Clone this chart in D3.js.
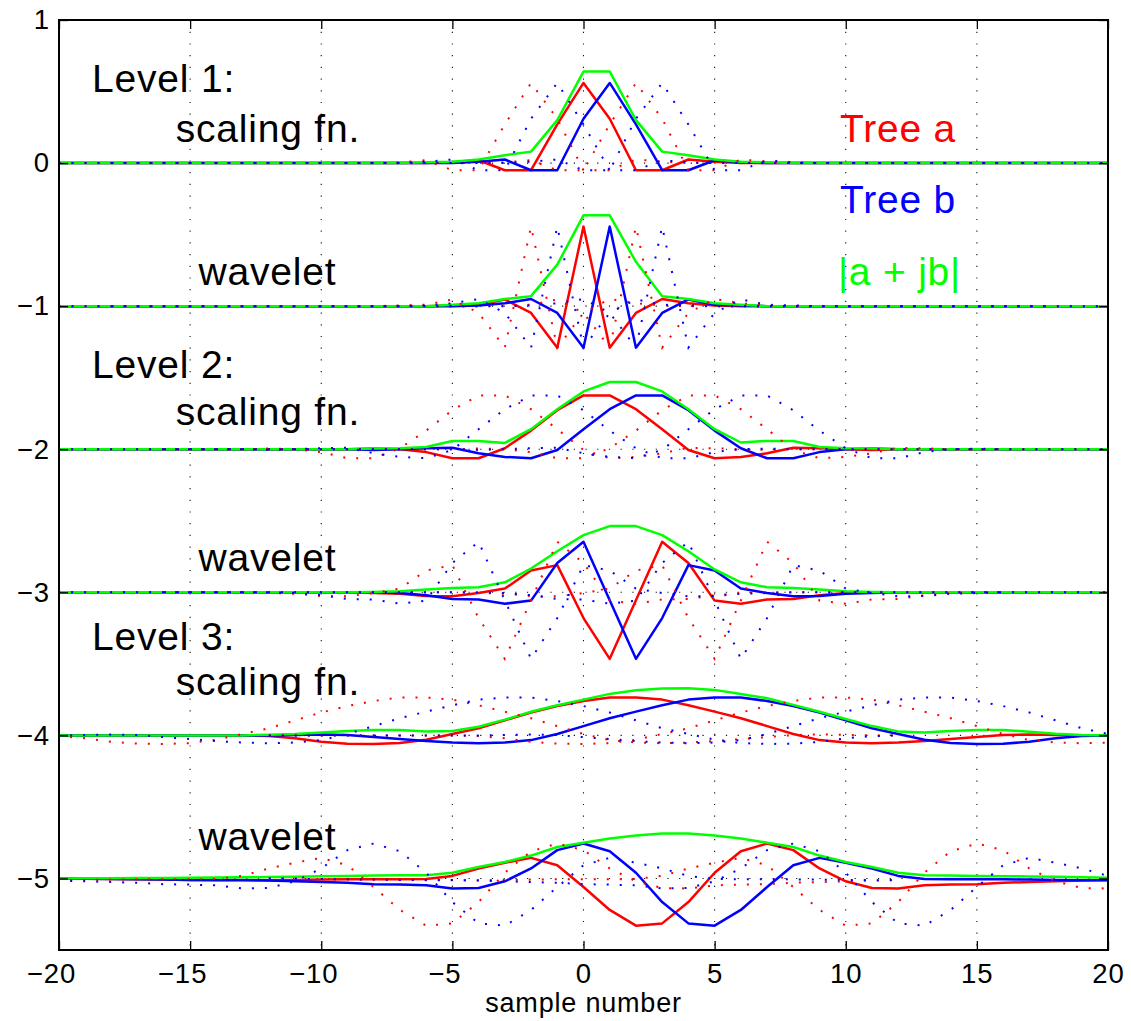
<!DOCTYPE html>
<html>
<head>
<meta charset="utf-8">
<script src="https://cdn.jsdelivr.net/npm/d3@7/dist/d3.min.js"></script>
<style>
  body { margin: 0; background: #fff; }
  text { font-family: "Liberation Sans", Arial, Helvetica, sans-serif; }
</style>
</head>
<body>
<div id="chart"></div>
<script>
// sample positions and ticks
var samples = d3.range(-20, 21);
var xTicks = [-20, -15, -10, -5, 0, 5, 10, 15, 20];
var yTicks = [1, 0, -1, -2, -3, -4, -5];

// each curve sits on its own baseline, neighbours are shifted by 2^level samples
var levelOffsets = [0, -1, -2, -3, -4, -5];
var neighbourShift = [2, 2, 4, 4, 8, 8];

// values for sample -20 .. 20
var l1ScaleA   = [0,0,0,0,0,0,0,0,0,0,0,0,0,0,0, 0.005,0.02,-0.05,-0.05,0.27,0.56,0.31,-0.05,-0.05,0.025,0.01, 0,0,0,0,0,0,0,0,0,0,0,0,0,0,0];
var l1ScaleB   = [0,0,0,0,0,0,0,0,0,0,0,0,0,0,0,0, 0.01,0.025,-0.05,-0.05,0.31,0.56,0.27,-0.05,-0.05,0.02,0.005, 0,0,0,0,0,0,0,0,0,0,0,0,0,0];
var l1ScaleAbs = [0,0,0,0,0,0,0,0,0,0,0,0,0,0, 0.005,0.01,0.025,0.055,0.08,0.3,0.64,0.64,0.3,0.08,0.055,0.025,0.01,0.005, 0,0,0,0,0,0,0,0,0,0,0,0,0];

var l1WaveA   = [0,0,0,0,0,0,0,0,0,0,0,0,0,0,0, 0.005,0.01,0.047,-0.047,-0.29,0.556,-0.29,-0.047,0.05,0.02,0.005, 0,0,0,0,0,0,0,0,0,0,0,0,0,0,0];
var l1WaveB   = [0,0,0,0,0,0,0,0,0,0,0,0,0,0,0,0, 0.005,0.02,0.05,-0.047,-0.29,0.556,-0.29,-0.047,0.047,0.01,0.005, 0,0,0,0,0,0,0,0,0,0,0,0,0,0];
var l1WaveAbs = [0,0,0,0,0,0,0,0,0,0,0,0,0,0,0, 0.01,0.02,0.05,0.07,0.29,0.635,0.635,0.31,0.07,0.05,0.02,0.01, 0,0,0,0,0,0,0,0,0,0,0,0,0,0];

var l2ScaleA   = [0,0,0,0,0,0,0,0,0,0,0,0, 0.005,0,-0.02,-0.063,-0.063,0.007,0.13,0.273,0.376,0.376,0.28,0.14,-0.005,-0.063,-0.054,-0.028,0.01,0.007,0,-0.005, 0,0,0,0,0,0,0,0,0];
var l2ScaleB   = [0,0,0,0,0,0,0,0,0,0,0,0, -0.005,0,0.007,0.01,-0.028,-0.054,-0.063,-0.005,0.14,0.28,0.376,0.376,0.273,0.13,0.007,-0.063,-0.063,-0.02,0,0.005, 0,0,0,0,0,0,0,0,0];
var l2ScaleAbs = [0,0,0,0,0,0,0,0,0,0,0,0, 0.005,0.007,0.016,0.058,0.058,0.044,0.14,0.28,0.404,0.47,0.47,0.404,0.28,0.14,0.047,0.058,0.058,0.016,0.007,0.005, 0,0,0,0,0,0,0,0,0];

var l2WaveA   = [0,0,0,0,0,0,0,0,0,0,0,0, -0.005,-0.01,-0.026,-0.028,-0.005,0.026,0.152,0.19,-0.18,-0.465,-0.056,0.353,0.205,-0.058,-0.08,-0.05,-0.047,-0.02,-0.005,0, 0,0,0,0,0,0,0,0,0];
var l2WaveB   = [0,0,0,0,0,0,0,0,0,0,0,0, 0,-0.005,-0.02,-0.047,-0.05,-0.08,-0.058,0.205,0.353,-0.056,-0.465,-0.18,0.19,0.152,0.026,-0.005,-0.028,-0.026,-0.01,-0.005, 0,0,0,0,0,0,0,0,0];
var l2WaveAbs = [0,0,0,0,0,0,0,0,0,0,0,0, 0.003,0.007,0.02,0.03,0.035,0.07,0.166,0.287,0.4,0.463,0.463,0.4,0.287,0.16,0.07,0.035,0.03,0.02,0.007,0.003, 0,0,0,0,0,0,0,0,0];

var l3ScaleA   = [0,0,0,0,0,0,0,0, -0.005,-0.02,-0.045,-0.058,-0.06,-0.054,-0.03,0.01,0.05,0.105,0.16,0.205,0.24,0.265,0.265,0.25,0.21,0.166,0.12,0.065,0.01,-0.033,-0.05,-0.055,-0.05,-0.04,-0.026,-0.012,0.002,0.007,0.003, 0,0];
var l3ScaleB   = [0,0,0,0,0,0,0,0,0, 0.003,0.007,0.002,-0.012,-0.026,-0.04,-0.05,-0.055,-0.05,-0.033,0.01,0.065,0.12,0.166,0.21,0.25,0.265,0.265,0.24,0.205,0.16,0.105,0.05,0.01,-0.03,-0.054,-0.06,-0.058,-0.045,-0.02,-0.005,0];
var l3ScaleAbs = [0,0,0,0,0,0,0,0, 0.005,0.01,0.02,0.03,0.037,0.037,0.028,0.03,0.06,0.11,0.165,0.21,0.25,0.29,0.315,0.328,0.33,0.318,0.29,0.26,0.213,0.165,0.115,0.065,0.028,0.02,0.03,0.037,0.037,0.026,0.012,0.003,0];

var l3WaveA   = [0,-0.002,-0.004,-0.006,-0.008,-0.01,-0.012,-0.012,-0.012,-0.01,-0.008,-0.006,-0.006,-0.006,-0.004,0.018,0.07,0.11,0.144,0.092,-0.06,-0.22,-0.33,-0.314,-0.165,0.04,0.19,0.244,0.198,0.07,-0.02,-0.067,-0.07,-0.048,-0.043,-0.04,-0.03,-0.025,-0.02,-0.015,-0.01];
var l3WaveB   = [0,-0.002,-0.004,-0.006,-0.008,-0.01,-0.01,-0.01,-0.015,-0.02,-0.025,-0.03,-0.04,-0.043,-0.048,-0.07,-0.067,-0.02,0.07,0.198,0.244,0.19,0.04,-0.165,-0.314,-0.33,-0.22,-0.06,0.092,0.144,0.11,0.07,0.018,-0.004,-0.006,-0.006,-0.006,-0.008,-0.01,-0.012,-0.012];
var l3WaveAbs = [0,0.001,0.002,0.003,0.004,0.005,0.006,0.008,0.01,0.012,0.015,0.018,0.02,0.022,0.022,0.04,0.08,0.115,0.16,0.22,0.25,0.28,0.3,0.315,0.315,0.3,0.28,0.25,0.22,0.16,0.115,0.08,0.04,0.022,0.021,0.018,0.016,0.014,0.012,0.008,0.005];

var treeA = [l1ScaleA, l1WaveA, l2ScaleA, l2WaveA, l3ScaleA, l3WaveA];
var treeB = [l1ScaleB, l1WaveB, l2ScaleB, l2WaveB, l3ScaleB, l3WaveB];
var treeAbs = [l1ScaleAbs, l1WaveAbs, l2ScaleAbs, l2WaveAbs, l3ScaleAbs, l3WaveAbs];

// annotation texts (data coordinates)
var notes = [
  {t: "Level 1:",     x: -18.74, y: 0.50},
  {t: "scaling fn.",  x: -15.55, y: 0.15},
  {t: "wavelet",      x: -14.68, y: -0.85},
  {t: "Level 2:",     x: -18.74, y: -1.50},
  {t: "scaling fn.",  x: -15.55, y: -1.83},
  {t: "wavelet",      x: -14.68, y: -2.85},
  {t: "Level 3:",     x: -18.74, y: -3.40},
  {t: "scaling fn.",  x: -15.55, y: -3.72},
  {t: "wavelet",      x: -14.68, y: -4.80}
];
var legendNames = ["Tree a", "Tree b", "|a + jb|"];
var legendColors = ["#ff0000", "#0000ff", "#00ff00"];

var svgWidth = 1131;
var svgHeight = 1021;
var margin = {top: 20, right: 23, bottom: 71, left: 59};
var width = svgWidth - margin.left - margin.right;
var height = svgHeight - margin.top - margin.bottom;

var svg = d3.select("#chart").append("svg")
    .attr("width", svgWidth)
    .attr("height", svgHeight);

var g = svg.append("g")
    .attr("transform", `translate(${margin.left}, ${margin.top})`);

var x = d3.scaleLinear().domain([-20, 20]).range([0, width]);
var y = d3.scaleLinear().domain([-5.5, 1]).range([height, 0]);

svg.append("defs").append("clipPath").attr("id", "plotclip")
  .append("rect").attr("width", width).attr("height", height);

// dotted grid
g.selectAll(".vgrid")
    .data(xTicks.slice(1, -1))
    .enter().append("line")
    .attr("x1", d => x(d)).attr("x2", d => x(d))
    .attr("y1", 0).attr("y2", height)
    .attr("stroke", "#111").attr("stroke-width", 1.1)
    .attr("stroke-dasharray", "1.2,10.5");

g.selectAll(".hgrid")
    .data(yTicks.slice(1))
    .enter().append("line")
    .attr("x1", 0).attr("x2", width)
    .attr("y1", d => y(d)).attr("y2", d => y(d))
    .attr("stroke", "#111").attr("stroke-width", 1.1)
    .attr("stroke-dasharray", "1.2,10.5");

var line = d3.line().x(d => x(d[0])).y(d => y(d[1]));
var plot = g.append("g").attr("clip-path", "url(#plotclip)");

levelOffsets.forEach(function(off, i) {
    var pts = function(vals, shift) {
        return samples.map((s, k) => [s + shift, off + vals[k]]);
    };
    [[treeA[i], "#ff0000"], [treeB[i], "#0000ff"], [treeAbs[i], "#00ff00"]].forEach(function(sr) {
        plot.append("path")
            .datum(pts(sr[0], 0))
            .attr("d", line)
            .attr("fill", "none")
            .attr("stroke", sr[1])
            .attr("stroke-width", 2.5)
            .attr("stroke-linejoin", "round");
    });
    [[treeA[i], "#ff0000"], [treeB[i], "#0000ff"]].forEach(function(sr) {
        [-neighbourShift[i], neighbourShift[i]].forEach(function(sh) {
            plot.append("path")
                .datum(pts(sr[0], sh))
                .attr("d", line)
                .attr("fill", "none")
                .attr("stroke", sr[1])
                .attr("stroke-width", 2)
                .attr("stroke-dasharray", "2,11");
        });
    });
});

// axes, ticks inside like the original
var minus = t => (t < 0 ? "\u2212" + Math.abs(t) : "" + t);

var xAxis = g.append("g")
    .attr("transform", `translate(0, ${height})`)
    .call(d3.axisBottom(x).tickValues(xTicks).tickSize(-9).tickPadding(13).tickFormat(minus));
xAxis.selectAll("text")
    .attr("dx", d => (d < 0 ? -8 : 0));

var yAxis = g.append("g")
    .call(d3.axisLeft(y).tickValues(yTicks).tickSize(-9).tickPadding(9).tickFormat(minus));

g.append("g").call(d3.axisTop(x).tickValues(xTicks).tickSize(-9).tickFormat(""));
g.append("g").attr("transform", `translate(${width}, 0)`)
    .call(d3.axisRight(y).tickValues(yTicks).tickSize(-9).tickFormat(""));

g.selectAll(".domain").remove();
g.selectAll(".tick line").attr("stroke", "#000").attr("stroke-width", 1.3);
g.selectAll(".tick text")
    .attr("fill", "#000")
    .style("font-size", "27.5px")
    .style("letter-spacing", "1px")
    .style("font-family", "'Liberation Sans', Arial, sans-serif");

g.append("rect")
    .attr("width", width).attr("height", height)
    .attr("fill", "none").attr("stroke", "#000").attr("stroke-width", 2);

// notes
g.selectAll(".note")
    .data(notes)
    .enter().append("text")
    .attr("x", d => x(d.x))
    .attr("y", d => y(d.y))
    .attr("font-size", "39px")
    .attr("letter-spacing", "0.8px")
    .attr("fill", "#000")
    .text(d => d.t);

// legend text
g.selectAll(".legend")
    .data(legendNames)
    .enter().append("text")
    .attr("x", (d, i) => x(i == 2 ? 9.7 : 9.78))
    .attr("y", (d, i) => y(0.15 - i * 0.5))
    .attr("font-size", "39px")
    .attr("letter-spacing", "0.8px")
    .attr("fill", (d, i) => legendColors[i])
    .text(d => d);

svg.append("text")
    .attr("x", margin.left + x(0))
    .attr("y", svgHeight - 9)
    .attr("text-anchor", "middle")
    .attr("font-size", "27px")
    .attr("letter-spacing", "0.8px")
    .text("sample number");
</script>
</body>
</html>
